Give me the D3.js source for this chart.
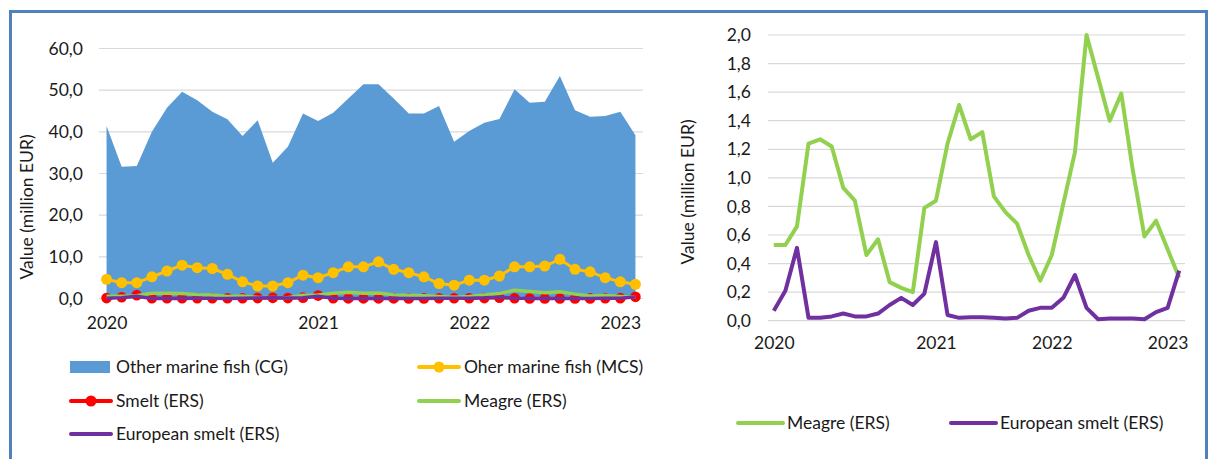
<!DOCTYPE html>
<html><head><meta charset="utf-8">
<script src="https://cdn.jsdelivr.net/npm/d3@7"></script>
<style>body{margin:0;background:#fff}svg{display:block}text{font-family:Lato,"Open Sans",sans-serif;fill:#1a1a1a}</style>
</head><body><svg id="c" width="1208" height="459"></svg>
<script>
const categories = ["2020","","","","","","","","","","","","","","2021","","","","","","","","","","2022","","","","","","","","","","2023",""];
const otherCG = [41.4,31.6,31.8,40.0,45.8,49.6,47.6,44.8,43.0,39.0,42.8,32.6,36.4,44.4,42.6,44.6,48.0,51.4,51.4,48.0,44.4,44.4,46.2,37.6,40.2,42.2,43.1,50.2,47.0,47.2,53.4,45.2,43.6,43.8,44.8,39.2];
const otherMCS = [4.6,3.8,3.8,5.2,6.6,8.0,7.4,7.2,5.8,4.0,3.0,3.0,3.8,5.6,5.0,6.2,7.6,7.6,8.8,7.0,6.2,5.2,3.6,3.2,4.4,4.4,5.4,7.6,7.6,7.8,9.4,7.0,6.4,5.0,4.0,3.4];
const smelt = [0.1,0.3,0.8,0.05,0.05,0.05,0.05,0.05,0.05,0.05,0.1,0.15,0.1,0.2,0.7,0.05,0.03,0.03,0.03,0.03,0.02,0.02,0.05,0.05,0.05,0.1,0.2,0.05,0.02,0.02,0.02,0.02,0.02,0.05,0.08,0.4];
const meagre = [0.53,0.53,0.66,1.24,1.27,1.22,0.93,0.84,0.46,0.57,0.27,0.23,0.20,0.79,0.84,1.24,1.51,1.27,1.32,0.87,0.76,0.68,0.46,0.28,0.46,0.82,1.18,2.00,1.70,1.40,1.59,1.05,0.59,0.70,0.50,0.30];
const euroSmelt = [0.07,0.21,0.51,0.02,0.02,0.03,0.05,0.03,0.03,0.05,0.11,0.16,0.11,0.19,0.55,0.04,0.02,0.025,0.025,0.02,0.015,0.02,0.07,0.09,0.09,0.16,0.32,0.09,0.01,0.015,0.015,0.015,0.01,0.06,0.09,0.35];
const leftTicks = [0,10,20,30,40,50,60];
const rightTicks = [0,0.2,0.4,0.6,0.8,1.0,1.2,1.4,1.6,1.8,2.0];

const C = {cg:"#5b9bd5", mcs:"#ffc000", smelt:"#ff0000", meagre:"#92d050", euro:"#7030a0", grid:"#d9d9d9", border:"#4f81bd"};
const fmt = v => d3.format(".1f")(v).replace(".", ",");
const svg = d3.select("#c");
const idx = categories.map((_, i) => i);

// frame
svg.append("path").attr("d","M10.5,459 V11.5 H1206.5 V459").attr("fill","none").attr("stroke",C.border).attr("stroke-width",3);

// ---- left chart
const xL = d3.scalePoint().domain(idx).range([99,643]).padding(0.5);
const yL = d3.scaleLinear().domain([0,60]).range([298.5,48.5]);
const gL = svg.append("g");
gL.append("g").selectAll("line").data(leftTicks).join("line")
  .attr("x1",99).attr("x2",643).attr("y1",d=>yL(d)).attr("y2",d=>yL(d))
  .attr("stroke",C.grid).attr("stroke-width",1.2);
gL.append("path").datum(otherCG).attr("fill",C.cg)
  .attr("d", d3.area().x((d,i)=>xL(i)).y0(yL(0)).y1(d=>yL(d)));
const lineL = d3.line().x((d,i)=>xL(i)).y(d=>yL(d));
gL.append("path").datum(otherMCS).attr("d",lineL).attr("fill","none").attr("stroke",C.mcs).attr("stroke-width",3);
gL.append("g").selectAll("circle").data(otherMCS).join("circle").attr("cx",(d,i)=>xL(i)).attr("cy",d=>yL(d)).attr("r",5.5).attr("fill",C.mcs);
gL.append("path").datum(smelt).attr("d",lineL).attr("fill","none").attr("stroke",C.smelt).attr("stroke-width",3);
gL.append("g").selectAll("circle").data(smelt).join("circle").attr("cx",(d,i)=>xL(i)).attr("cy",d=>yL(d)).attr("r",5.3).attr("fill",C.smelt);
gL.append("path").datum(meagre).attr("d",lineL).attr("fill","none").attr("stroke",C.meagre).attr("stroke-width",3.5);
gL.append("path").datum(euroSmelt).attr("d",lineL).attr("fill","none").attr("stroke",C.euro).attr("stroke-width",3.5);

const axL = d3.axisLeft(yL).tickValues(leftTicks).tickFormat(fmt).tickSize(0).tickPadding(0);
gL.append("g").attr("transform","translate(83,0)").call(axL)
  .call(g=>g.select(".domain").remove())
  .selectAll("text").attr("font-size",17.5).style("font-family","Lato");
const axLx = d3.axisBottom(xL).tickValues(idx.filter(i=>categories[i]!=="")).tickFormat(i=>categories[i]).tickSize(0).tickPadding(0);
gL.append("g").attr("transform","translate(0,317)").call(axLx)
  .call(g=>g.select(".domain").remove())
  .selectAll("text").attr("font-size",17.5).style("font-family","Lato");
gL.append("text").attr("transform","translate(27,207) rotate(-90)").attr("text-anchor","middle").attr("dy","0.35em").attr("font-size",17.5).text("Value (million EUR)");

// left legend
const legL = [
  {name:"Other marine fish (CG)", type:"area", color:C.cg, x:70, y:367},
  {name:"Oher marine fish (MCS)", type:"marker", color:C.mcs, x:418, y:367},
  {name:"Smelt (ERS)", type:"marker", color:C.smelt, x:70, y:401},
  {name:"Meagre (ERS)", type:"line", color:C.meagre, x:418, y:401},
  {name:"European smelt (ERS)", type:"line", color:C.euro, x:70, y:434}
];
const lg = svg.append("g").selectAll("g").data(legL).join("g").attr("transform",d=>`translate(${d.x},${d.y})`);
lg.filter(d=>d.type==="area").append("rect").attr("x",0).attr("y",-6).attr("width",40).attr("height",12).attr("fill",d=>d.color);
lg.filter(d=>d.type!=="area").append("line").attr("x1",1).attr("x2",41).attr("stroke",d=>d.color).attr("stroke-width",4).attr("stroke-linecap","round");
lg.filter(d=>d.type==="marker").append("circle").attr("cx",21).attr("r",5.5).attr("fill",d=>d.color);
lg.append("text").attr("x",46).attr("dy","0.35em").attr("font-size",17.5).text(d=>d.name);

// ---- right chart
const xR = d3.scalePoint().domain(idx).range([768,1185]).padding(0.5);
const yR = d3.scaleLinear().domain([0,2]).range([320.7,35]);
const gR = svg.append("g");
gR.append("g").selectAll("line").data(rightTicks).join("line")
  .attr("x1",768).attr("x2",1185).attr("y1",d=>yR(d)).attr("y2",d=>yR(d))
  .attr("stroke",C.grid).attr("stroke-width",1.2);
const lineR = d3.line().x((d,i)=>xR(i)).y(d=>yR(d));
gR.append("path").datum(meagre).attr("d",lineR).attr("fill","none").attr("stroke",C.meagre).attr("stroke-width",4).attr("stroke-linejoin","round");
gR.append("path").datum(euroSmelt).attr("d",lineR).attr("fill","none").attr("stroke",C.euro).attr("stroke-width",4).attr("stroke-linejoin","round");
const axR = d3.axisLeft(yR).tickValues(rightTicks).tickFormat(fmt).tickSize(0).tickPadding(0);
gR.append("g").attr("transform","translate(751,0)").call(axR)
  .call(g=>g.select(".domain").remove())
  .selectAll("text").attr("font-size",17.5).style("font-family","Lato");
const axRx = d3.axisBottom(xR).tickValues(idx.filter(i=>categories[i]!=="")).tickFormat(i=>categories[i]).tickSize(0).tickPadding(0);
gR.append("g").attr("transform","translate(0,337)").call(axRx)
  .call(g=>g.select(".domain").remove())
  .selectAll("text").attr("font-size",17.5).style("font-family","Lato");
gR.append("text").attr("transform","translate(688,192) rotate(-90)").attr("text-anchor","middle").attr("dy","0.35em").attr("font-size",17.5).text("Value (million EUR)");

const legR = [
  {name:"Meagre (ERS)", color:C.meagre, x:737, y:423},
  {name:"European smelt (ERS)", color:C.euro, x:950, y:423}
];
const lr = svg.append("g").selectAll("g").data(legR).join("g").attr("transform",d=>`translate(${d.x},${d.y})`);
lr.append("line").attr("x1",1).attr("x2",46).attr("stroke",d=>d.color).attr("stroke-width",4).attr("stroke-linecap","round");
lr.append("text").attr("x",50).attr("dy","0.35em").attr("font-size",17.5).text(d=>d.name);
</script></body></html>
